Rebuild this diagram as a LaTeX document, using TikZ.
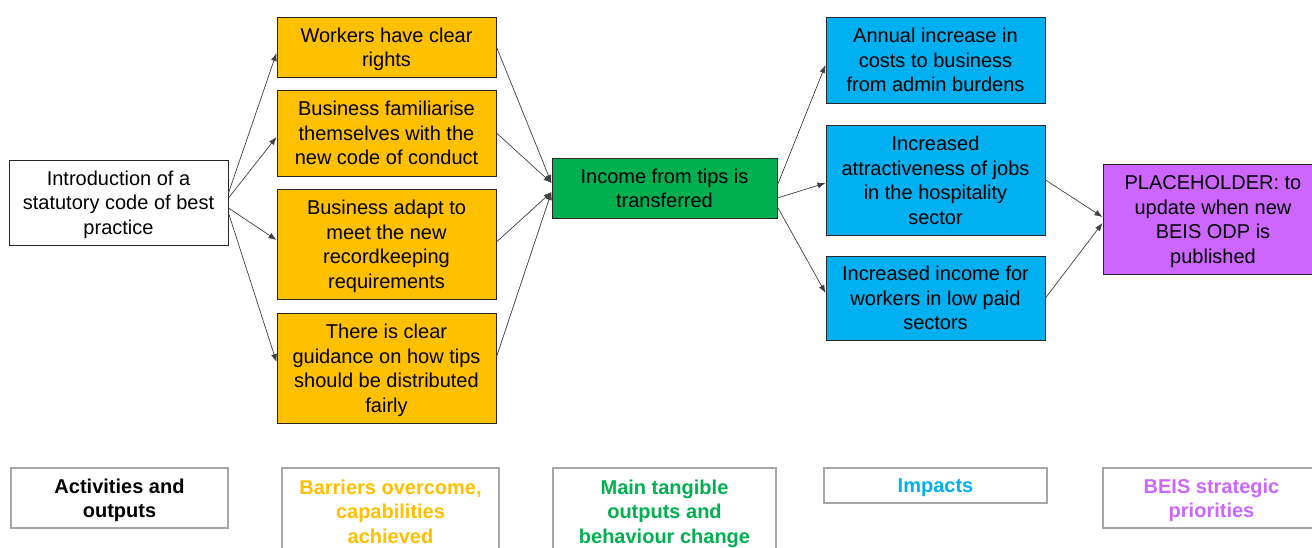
\documentclass[tikz,border=0pt]{standalone}
\usepackage{fontspec}
\setmainfont{Liberation Sans}
\usetikzlibrary{arrows.meta}
\definecolor{cyel}{HTML}{FFC000}
\definecolor{cgrn}{HTML}{00B050}
\definecolor{cblu}{HTML}{00B0F0}
\definecolor{cpur}{HTML}{CC66FF}
\definecolor{cbord}{HTML}{262626}
\definecolor{lbord}{HTML}{A6A6A6}
% lines stacked 24.5pt apart, lowered so the first baseline sits 19.5pt into each 24.5pt line slot
\newcommand{\tb}[1]{\raisebox{-2.35pt}[\height][\depth]{\begin{tabular}{@{}c@{}}#1\end{tabular}}}
\begin{document}
\begin{tikzpicture}[x=1pt,y=-1pt,
  box/.style={draw=cbord, line width=1pt, inner sep=0pt,
    font=\fontsize{20}{24.5}\selectfont, text=black},
  lab/.style={draw=lbord, line width=1.2pt, fill=white, inner sep=0pt,
    font=\fontsize{20}{24.5}\selectfont\bfseries},
  conn/.style={draw=black!75, line width=0.7pt, -{Latex[length=8pt,width=6pt]}}]
\useasboundingbox (0,0) rectangle (1312,547);
\clip (0,0) rectangle (1312,547);

% main boxes
\node[box, fill=white, minimum width=219pt, minimum height=85pt] (intro) at (118.5,202.5)
  {\tb{Introduction of a\\statutory code of best\\practice}};
\node[box, fill=cyel, minimum width=219pt, minimum height=60pt] (y1) at (386.5,47)
  {\tb{Workers have clear\\rights}};
\node[box, fill=cyel, minimum width=219pt, minimum height=86pt] (y2) at (386.5,133)
  {\tb{Business familiarise\\themselves with the\\new code of conduct}};
\node[box, fill=cyel, minimum width=219pt, minimum height=110pt] (y3) at (386.5,244)
  {\tb{Business adapt to\\meet the new\\recordkeeping\\requirements}};
\node[box, fill=cyel, minimum width=219pt, minimum height=110pt] (y4) at (386.5,368)
  {\tb{There is clear\\guidance on how tips\\should be distributed\\fairly}};
\node[box, fill=cgrn, minimum width=225pt, minimum height=60pt] (grn) at (664.5,188)
  {\tb{Income from tips is\\transferred}};
\node[box, fill=cblu, minimum width=219pt, minimum height=86pt] (b1) at (935.5,60)
  {\tb{Annual increase in\\costs to business\\from admin burdens}};
\node[box, fill=cblu, minimum width=219pt, minimum height=110pt] (b2) at (935.5,180)
  {\tb{Increased\\attractiveness of jobs\\in the hospitality\\sector}};
\node[box, fill=cblu, minimum width=219pt, minimum height=84pt] (b3) at (935.5,298)
  {\tb{Increased income for\\workers in low paid\\sectors}};
\node[box, fill=cpur, minimum width=220pt, minimum height=110pt] (pur) at (1213,219)
  {\tb{PLACEHOLDER: to\\update when new\\BEIS ODP is\\published}};

% connectors
\draw[conn] ([yshift=9.5pt]intro.east) -- ([yshift=-6pt]y1.west);
\draw[conn] ([yshift=4.5pt]intro.east) -- ([yshift=-4pt]y2.west);
\draw[conn] ([yshift=-5.5pt]intro.east) -- ([yshift=4pt]y3.west);
\draw[conn] ([yshift=-10.5pt]intro.east) -- ([yshift=6pt]y4.west);

\draw[conn] (y1.east) -- ([yshift=5pt]grn.west);
\draw[conn] (y2.east) -- ([yshift=5pt]grn.west);
\draw[conn] ([yshift=2pt]y3.east) -- ([yshift=-4pt]grn.west);
\draw[conn] ([yshift=11pt]y4.east) -- ([yshift=-4pt]grn.west);

\draw[conn] ([yshift=3pt]grn.east) -- ([yshift=-5pt]b1.west);
\draw[conn] ([yshift=-10pt]grn.east) -- ([yshift=-3pt]b2.west);
\draw[conn] ([yshift=-19pt]grn.east) -- ([yshift=5pt]b3.west);

\draw[conn] (b2.east) -- ([yshift=2pt]pur.west);
\draw[conn] (b3.east) -- ([yshift=-4pt]pur.west);

% legend labels
\node[lab, text=black, minimum width=217pt, minimum height=60pt] (l1) at (119.5,498)
  {\tb{Activities and\\outputs}};
\node[lab, text=cyel, minimum width=217pt, minimum height=87pt] (l2) at (390.5,511.5)
  {\tb{Barriers overcome,\\capabilities\\achieved}};
\node[lab, text=cgrn, minimum width=223pt, minimum height=87pt] (l3) at (664.5,511.5)
  {\tb{Main tangible\\outputs and\\behaviour change}};
\node[lab, text=cblu, minimum width=223pt, minimum height=35pt] (l4) at (935.5,485.5)
  {\tb{Impacts}};
\node[lab, text=cpur, minimum width=217pt, minimum height=60pt] (l5) at (1211.5,498)
  {\tb{BEIS strategic\\priorities}};
\end{tikzpicture}
\end{document}
